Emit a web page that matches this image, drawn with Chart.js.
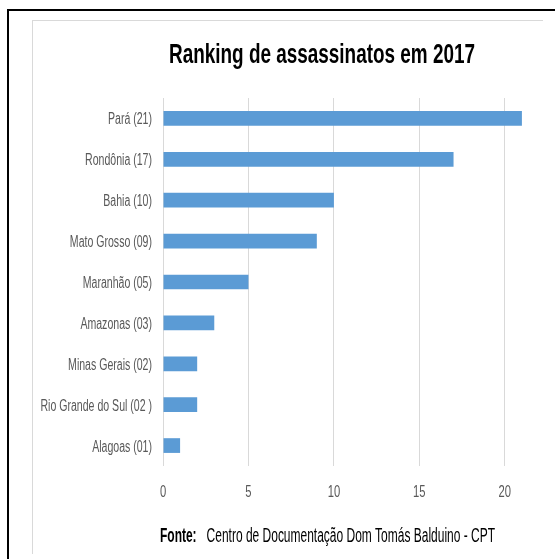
<!DOCTYPE html>
<html>
<head>
<meta charset="utf-8">
<script src="https://cdn.jsdelivr.net/npm/chart.js@4.4.0/dist/chart.umd.min.js"></script>
<style>
  html, body { margin: 0; padding: 0; background: #fff; overflow: hidden; }
  #wrap { position: relative; width: 555px; height: 559px; }
  /* moldura preta externa e moldura cinza interna */
  #frameOuter { position: absolute; left: 7px; top: 9px; width: 600px; height: 600px; border: 2px solid #000; }
  #frameInner { position: absolute; left: 32px; top: 20px; width: 510px; height: 533px;
                border-top: 1px solid #d9d9d9; border-left: 1px solid #d9d9d9; }
  canvas { position: absolute; left: 0; top: 0; }
</style>
</head>
<body>
<div id="wrap">
  <div id="frameOuter"></div>
  <div id="frameInner"></div>
  <canvas id="rankingChart" width="555" height="559"></canvas>
</div>
<script>
// Dados do gráfico
const estados = [
  "Pará (21)",
  "Rondônia (17)",
  "Bahia (10)",
  "Mato Grosso (09)",
  "Maranhão (05)",
  "Amazonas (03)",
  "Minas Gerais (02)",
  "Rio Grande do Sul (02 )",
  "Alagoas (01)",
];
const assassinatos = [21, 17, 10, 9, 5, 3, 2, 2, 1];
const ticksX = [0, 5, 10, 15, 20];

const titulo = "Ranking de assassinatos em 2017";
const fonteRotulo = "Fonte:";
const fonteTexto = "Centro de Documentação Dom Tomás Balduino - CPT";

const FONTE = "'Liberation Sans', Arial, sans-serif";
const ESTREITO = 0.66; // texto do original é bem condensado

// Escreve texto comprimido na horizontal
function textoEstreito(ctx, txt, x, y, font, sx, align) {
  ctx.save();
  ctx.font = font;
  ctx.textBaseline = "alphabetic";
  ctx.textAlign = "left";
  const w = ctx.measureText(txt).width * sx;
  const left = align === "right" ? x - w : align === "center" ? x - w / 2 : x;
  ctx.translate(left, y);
  ctx.scale(sx, 1);
  ctx.fillText(txt, 0, 0);
  ctx.restore();
  return w;
}

const textosPlugin = {
  id: "textos",
  afterDraw(chart) {
    const ctx = chart.ctx;
    const area = chart.chartArea;
    const sx = chart.scales.x;
    const sy = chart.scales.y;

    // Título
    ctx.save();
    ctx.fillStyle = "#000";
    const fTitulo = "bold 28px " + FONTE;
    ctx.font = fTitulo;
    const kTitulo = 306 / ctx.measureText(titulo).width;
    textoEstreito(ctx, titulo, area.left + 159, area.top - 35, fTitulo, kTitulo, "center");

    // Rótulos das categorias
    ctx.fillStyle = "#595959";
    estados.forEach((nome, i) => {
      const y = sy.getPixelForValue(i);
      textoEstreito(ctx, nome, area.left - 11, y + 6, "16px " + FONTE, ESTREITO, "right");
    });

    // Rótulos do eixo x
    ticksX.forEach((v) => {
      const x = sx.getPixelForValue(v);
      textoEstreito(ctx, String(v), x, area.bottom + 31, "17px " + FONTE, ESTREITO, "center");
    });

    // Rodapé
    ctx.fillStyle = "#000";
    const fB = "bold 20px " + FONTE;
    const fN = "20px " + FONTE;
    ctx.font = fB;
    const wB = ctx.measureText(fonteRotulo).width;
    ctx.font = fN;
    const wN = ctx.measureText(fonteTexto).width;
    const gap = 10;
    const k = (335 - gap) / (wB + wN);
    const x0 = area.left - 3;
    const yR = area.bottom + 76;
    const w1 = textoEstreito(ctx, fonteRotulo, x0, yR, fB, k, "left");
    textoEstreito(ctx, fonteTexto, x0 + w1 + gap, yR, fN, k, "left");
    ctx.restore();
  },
};

const ctx = document.getElementById("rankingChart").getContext("2d");
new Chart(ctx, {
  type: "bar",
  data: {
    labels: estados,
    datasets: [
      {
        data: assassinatos,
        backgroundColor: "#5b9bd5",
        borderWidth: 0,
        barPercentage: 0.45,
        categoryPercentage: 0.8,
      },
    ],
  },
  options: {
    indexAxis: "y",
    responsive: false,
    animation: false,
    layout: {
      padding: { left: 32, right: 16, top: 98, bottom: 0 },
    },
    plugins: {
      legend: { display: false },
      tooltip: { enabled: false },
      title: { display: false },
    },
    scales: {
      x: {
        min: 0,
        max: 22,
        afterBuildTicks(scale) {
          scale.ticks = ticksX.map((v) => ({ value: v }));
        },
        afterFit(scale) {
          scale.height = 93;
        },
        grid: { color: "#d9d9d9", drawTicks: false },
        border: { display: false },
        ticks: { display: false },
      },
      y: {
        afterFit(scale) {
          scale.width = 131;
        },
        grid: { display: false },
        border: { display: false },
        ticks: { display: false },
      },
    },
  },
  plugins: [textosPlugin],
});
</script>
</body>
</html>
